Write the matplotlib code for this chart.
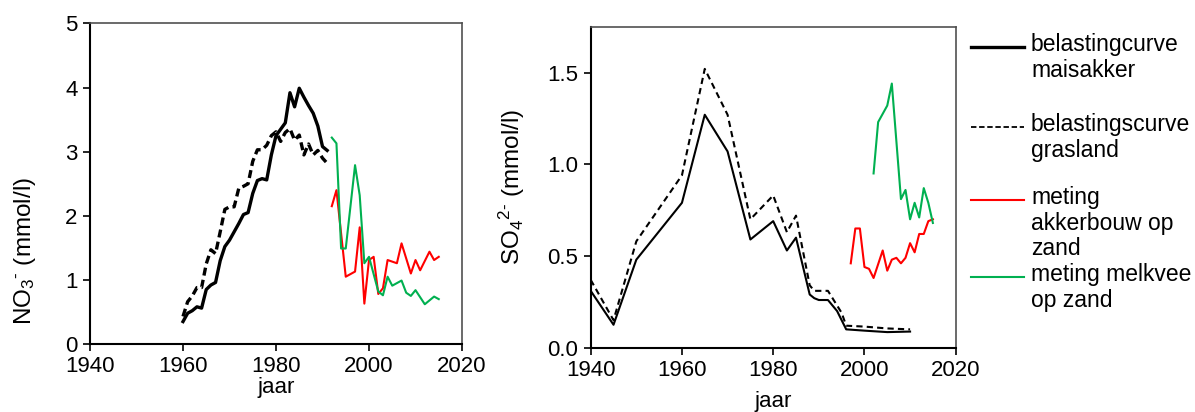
import matplotlib
matplotlib.use("Agg")
import matplotlib.pyplot as plt
from matplotlib.lines import Line2D

plt.rcParams["font.family"] = ["Liberation Sans", "DejaVu Sans"]
plt.rcParams["mathtext.default"] = "regular"

red = "#FF0000"
green = "#00B050"

# --- NO3 panel ---
no3_years = list(range(1960, 1992))
no3_mais = [0.35, 0.48, 0.52, 0.58, 0.56, 0.85, 0.92, 0.96, 1.30, 1.52,
            1.62, 1.75, 1.88, 2.02, 2.05, 2.35, 2.55, 2.58, 2.56, 2.95,
            3.25, 3.35, 3.45, 3.92, 3.70, 3.99, 3.85, 3.72, 3.60, 3.40,
            3.08, 3.02]
no3_gras = [0.43, 0.66, 0.75, 0.88, 0.88, 1.25, 1.47, 1.41, 1.75, 2.10,
            2.14, 2.14, 2.43, 2.46, 2.50, 2.85, 3.03, 3.03, 3.10, 3.25,
            3.31, 3.16, 3.30, 3.36, 3.18, 3.26, 2.95, 3.12, 2.95, 3.02,
            2.90, 2.82]
no3_akker_years = [1992, 1993, 1995, 1997, 1998, 1999, 2000, 2001, 2002, 2003,
                   2004, 2006, 2007, 2009, 2010, 2011, 2013, 2014, 2015]
no3_akker = [2.15, 2.40, 1.05, 1.13, 1.82, 0.63, 1.31, 1.36, 0.78, 0.87,
             1.31, 1.26, 1.57, 1.10, 1.31, 1.15, 1.44, 1.31, 1.36]
no3_melk_years = [1992, 1993, 1994, 1995, 1997, 1998, 1999, 2000, 2002, 2003,
                  2004, 2005, 2007, 2008, 2009, 2010, 2012, 2014, 2015]
no3_melk = [3.22, 3.13, 1.49, 1.49, 2.79, 2.32, 1.26, 1.36, 0.82, 0.76,
            1.05, 0.91, 0.99, 0.80, 0.75, 0.84, 0.62, 0.74, 0.70]

# --- SO4 panel ---
so4_years = [1940, 1945, 1950, 1960, 1965, 1970, 1975, 1980, 1983, 1985,
             1988, 1989, 1990, 1992, 1994, 1996, 2000, 2005, 2010]
so4_mais = [0.31, 0.125, 0.48, 0.79, 1.27, 1.07, 0.59, 0.69, 0.53, 0.60,
            0.29, 0.27, 0.26, 0.26, 0.20, 0.10, 0.093, 0.085, 0.088]
so4_gras_years = [1940, 1945, 1950, 1960, 1965, 1970, 1975, 1980, 1983, 1985,
                  1988, 1989, 1992, 1995, 1996, 2000, 2005, 2010]
so4_gras = [0.37, 0.15, 0.58, 0.94, 1.52, 1.27, 0.70, 0.83, 0.63, 0.72,
            0.34, 0.31, 0.31, 0.19, 0.12, 0.115, 0.105, 0.10]
so4_akker_years = [1997, 1998, 1999, 2000, 2001, 2002, 2004, 2005, 2006, 2007,
                   2008, 2009, 2010, 2011, 2012, 2013, 2014, 2015]
so4_akker = [0.46, 0.65, 0.65, 0.44, 0.43, 0.38, 0.53, 0.42, 0.48, 0.49,
             0.46, 0.49, 0.57, 0.52, 0.62, 0.62, 0.69, 0.70]
so4_melk_years = [2002, 2003, 2005, 2006, 2008, 2009, 2010, 2011, 2012, 2013,
                  2014, 2015]
so4_melk = [0.95, 1.23, 1.32, 1.44, 0.81, 0.86, 0.70, 0.79, 0.71, 0.87,
            0.79, 0.68]

x_ticks = [1940, 1960, 1980, 2000, 2020]
legend_labels = ["belastingcurve\nmaisakker", "belastingscurve\ngrasland",
                 "meting\nakkerbouw op\nzand", "meting melkvee\nop zand"]

W, H = 1195, 412
fig = plt.figure(figsize=(W / 100, H / 100), dpi=100)
ax1 = fig.add_axes([90 / W, 1 - 344 / H, 372 / W, 320.5 / H])
ax2 = fig.add_axes([590.7 / W, 1 - 347.7 / H, 365 / W, 321 / H])

ax1.plot(no3_years, no3_mais, color="black", lw=2.4)
ax1.plot(no3_years, no3_gras, color="black", lw=2.4, ls=(0, (2.4, 1.3)))
ax1.plot(no3_akker_years, no3_akker, color=red, lw=1.5)
ax1.plot(no3_melk_years, no3_melk, color=green, lw=1.5)
ax1.set_ylim(0, 5)
ax1.set_yticks([0, 1, 2, 3, 4, 5])
ax1.set_ylabel("NO$_3$$^{\u2010}$ (mmol/l)", fontsize=17.5)
ax1.yaxis.set_label_coords(-0.14, 0.29)
ax1.set_xlabel("jaar", fontsize=16, labelpad=0)

ax2.plot(so4_years, so4_mais, color="black", lw=1.5)
ax2.plot(so4_gras_years, so4_gras, color="black", lw=1.5, ls=(0, (3, 2)))
ax2.plot(so4_akker_years, so4_akker, color=red, lw=1.5)
ax2.plot(so4_melk_years, so4_melk, color=green, lw=1.5)
ax2.set_ylim(0, 1.75)
ax2.set_yticks([0.0, 0.5, 1.0, 1.5])
ax2.set_yticklabels(["0.0", "0.5", "1.0", "1.5"])
ax2.set_ylabel("SO$_4$$^{2\u2010}$ (mmol/l)", fontsize=17.5)
ax2.yaxis.set_label_coords(-0.175, 0.5)
ax2.set_xlabel("jaar", fontsize=16, labelpad=7)

for ax in (ax1, ax2):
    ax.set_xlim(1940, 2020)
    ax.set_xticks(x_ticks)
    ax.tick_params(labelsize=16, direction="out", length=5, width=1.2, pad=4)
    for side in ("left", "bottom"):
        ax.spines[side].set_linewidth(1.5)
        ax.spines[side].set_color("black")
    for side in ("top", "right"):
        ax.spines[side].set_linewidth(1.2)
        ax.spines[side].set_color("#505050")

# legend drawn at the right side
handle_y = [47, 127, 200, 277]
styles = [dict(color="black", lw=2.4),
          dict(color="black", lw=1.3, ls=(0, (3, 1.5))),
          dict(color=red, lw=1.5),
          dict(color=green, lw=1.5)]
for yy, st, lab in zip(handle_y, styles, legend_labels):
    fig.add_artist(Line2D([971 / W, 1024 / W], [1 - yy / H, 1 - yy / H],
                          transform=fig.transFigure, **st))
    fig.text(1031 / W, 1 - (yy - 14) / H, lab, fontsize=16.5, va="top",
             ha="left", linespacing=1.15)

fig.savefig("out.png", dpi=100)
